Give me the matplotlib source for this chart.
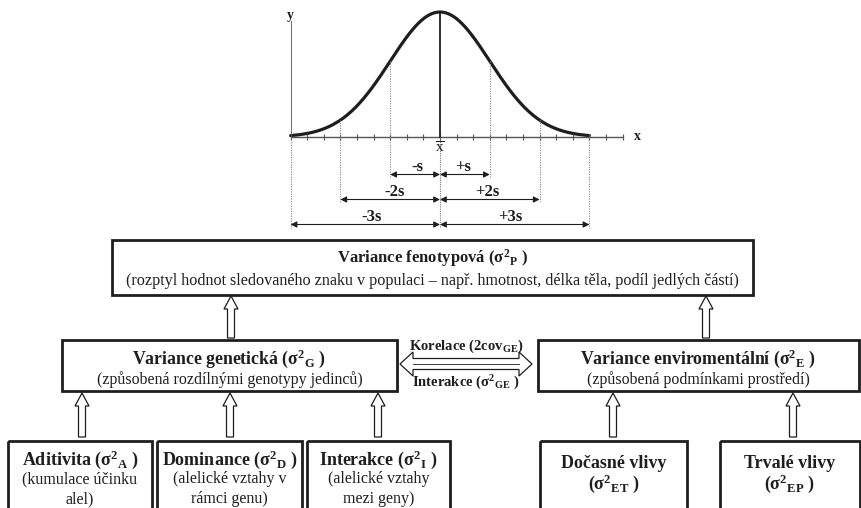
import numpy as np
import matplotlib
matplotlib.use("Agg")
import matplotlib.pyplot as plt
import matplotlib.patches as mpatches

plt.rcParams['font.family'] = ['Liberation Serif', 'DejaVu Serif']
plt.rcParams['mathtext.fontset'] = 'custom'
plt.rcParams['mathtext.rm'] = 'Liberation Serif'
plt.rcParams['mathtext.bf'] = 'Liberation Serif:bold'
plt.rcParams['mathtext.it'] = 'Liberation Serif:italic'

INK = '#1e1e1e'

# --- normal curve (in units of s) ---
z = np.linspace(-3, 3, 400)
dens = np.exp(-z**2 / 2)          # normal density, scaled to peak = 1
spans = [1, 2, 3]
span_labels = [('-s', '+s'), ('-2s', '+2s'), ('-3s', '+3s')]
span_levels = [-0.30, -0.50, -0.70]

# --- diagram boxes: (x0, y0, x1, y1) in pixels, title, subtitle lines ---
top_box = (112, 240, 753, 295)
top_title = r"Variance fenotypová ($\mathbf{σ^2{}_P}$ )"
top_sub = "(rozptyl hodnot sledovaného znaku v populaci – např. hmotnost, délka těla, podíl jedlých částí)"

mid_boxes = [(62, 340, 397, 391), (538, 340, 859, 391)]
mid_titles = [r"Variance genetická ($\mathbf{σ^2{}_G}$ )",
              r"Variance enviromentální ($\mathbf{σ^2{}_E}$ )"]
mid_subs = ["(způsobená rozdílnými genotypy jedinců)",
            "(způsobená podmínkami prostředí)"]

low_boxes = [(8, 441, 152, 530), (157, 441, 302, 530), (307, 441, 450, 530),
             (540, 441, 687, 530), (720, 441, 860, 530)]
low_titles = [r"Aditivita ($\mathbf{σ^2{}_A}$ )", r"Dominance ($\mathbf{σ^2{}_D}$ )",
              r"Interakce ($\mathbf{σ^2{}_I}$ )", "Dočasné vlivy", "Trvalé vlivy"]
low_subs = [["(kumulace účinku", "alel)"], ["(alelické vztahy v", "rámci genu)"],
            ["(alelické vztahy", "mezi geny)"], [r"($\mathbf{σ^2{}_{ET}}$ )"],
            [r"($\mathbf{σ^2{}_{EP}}$ )"]]

up_arrows_top = [231, 706]
up_arrows_low = [82, 230, 378, 613, 793]

fig = plt.figure(figsize=(8.62, 5.08), dpi=100)
ax = fig.add_axes([0, 0, 1, 1])
ax.set_xlim(0, 862)
ax.set_ylim(508, 0)
ax.axis('off')


def box(b, lw=2.0):
    x0, y0, x1, y1 = b
    ax.add_patch(mpatches.Rectangle((x0, y0), x1 - x0, y1 - y0, fill=False,
                                    ec=INK, lw=lw))


def up_arrow(x, y_from, y_to):
    ax.add_patch(mpatches.FancyArrow(x, y_from, 0, y_to - y_from, width=7,
                                     head_width=14, head_length=13,
                                     length_includes_head=True,
                                     fc='white', ec=INK, lw=0.9))


box(top_box)
ax.text((top_box[0] + top_box[2]) / 2, 258, top_title, ha='center', va='center',
        fontsize=12, fontweight='bold', color=INK)
ax.text((top_box[0] + top_box[2]) / 2, 281, top_sub, ha='center', va='center',
        fontsize=11.6, color=INK)

for b, t, s in zip(mid_boxes, mid_titles, mid_subs):
    box(b)
    cx = (b[0] + b[2]) / 2
    ax.text(cx, 359, t, ha='center', va='center', fontsize=12.8,
            fontweight='bold', color=INK)
    ax.text(cx, 380, s, ha='center', va='center', fontsize=11.4, color=INK)

for b, t, subs in zip(low_boxes, low_titles, low_subs):
    box(b)
    cx = (b[0] + b[2]) / 2
    if len(subs) == 2:
        ax.text(cx, 460, t, ha='center', va='center', fontsize=13,
                fontweight='bold', color=INK)
        for k, s in enumerate(subs):
            ax.text(cx, 479 + 20 * k, s, ha='center', va='center',
                    fontsize=11.5, color=INK)
    else:
        ax.text(cx, 463, t, ha='center', va='center', fontsize=13,
                fontweight='bold', color=INK)
        ax.text(cx, 484, subs[0], ha='center', va='center', fontsize=13,
                fontweight='bold', color=INK)

for x in up_arrows_top:
    up_arrow(x, 338, 296)
for x in up_arrows_low:
    up_arrow(x, 437, 393)

# hollow double arrow between genetic and environmental variance
xl, xr, yc = 400, 532, 364
hl, sw, hw = 13, 5.5, 12
pts = [(xl, yc), (xl + hl, yc - hw), (xl + hl, yc - sw), (xr - hl, yc - sw),
       (xr - hl, yc - hw), (xr, yc), (xr - hl, yc + hw), (xr - hl, yc + sw),
       (xl + hl, yc + sw), (xl + hl, yc + hw)]
ax.add_patch(mpatches.Polygon(pts, closed=True, fc='white', ec=INK, lw=0.9))
ax.plot([xl + hl, xr - hl], [yc, yc], color=INK, lw=0.6)
ax.text(466, 346, r"Korelace $\mathbf{(2cov_{GE})}$", ha='center', va='center',
        fontsize=10.5, fontweight='bold', color=INK)
ax.text(466, 383, r"Interakce ($\mathbf{σ^2{}_{GE}}$ )", ha='center', va='center',
        fontsize=10.5, fontweight='bold', color=INK)

# --- curve axes in units of s ---
s_px, mean_px, base_px, peak_h = 49.8, 440, 137, 125
L, R, T, B = 270, 650, 0, 235
cax = fig.add_axes([L / 862, 1 - B / 508, (R - L) / 862, (B - T) / 508])
cax.patch.set_alpha(0)
cax.axis('off')
cax.set_xlim((L - mean_px) / s_px, (R - mean_px) / s_px)
cax.set_ylim((base_px - B) / peak_h, (base_px - T) / peak_h)

cax.plot(z, dens, color=INK, lw=2.3, solid_capstyle='round')
# axes of the sketch
cax.plot([-3, -3], [0, 0.93], color='#777777', lw=0.8)
cax.text(-3, 0.975, 'y', ha='center', va='center', fontsize=10,
         fontweight='bold', color=INK)
cax.plot([-3, 3.67], [0, 0], color='#555555', lw=1.0)
cax.text(3.96, 0, 'x', ha='center', va='center', fontsize=10,
         fontweight='bold', color=INK)
ticks = np.arange(-9, 12) / 3
cax.vlines(ticks, -0.022, 0.022, color='#555555', lw=0.8)
# mean
cax.plot([0, 0], [0, 1], color=INK, lw=1.3)
cax.plot([0, 0], [0, -0.73], color='#777777', lw=0.8, ls=(0, (1, 1)))
cax.text(0, -0.09, r'$\overline{\mathrm{x}}$', ha='center', va='center',
         fontsize=11, color=INK)

for k, (lo, hi), lev in zip(spans, span_labels, span_levels):
    top = np.exp(-k**2 / 2) if k < 3 else 0
    for sgn in (-1, 1):
        cax.plot([sgn * k, sgn * k], [top, lev - 0.03], color='#888888', lw=0.8,
                 ls=(0, (1, 1.2)))
        cax.annotate('', xy=(sgn * k, lev), xytext=(0, lev),
                     arrowprops=dict(arrowstyle='<|-|>', color=INK, lw=0.8,
                                     mutation_scale=9, shrinkA=0, shrinkB=0))
    cax.text(-0.46 * k, lev + 0.06, lo, ha='center', va='center',
             fontsize=12, fontweight='bold', color=INK)
    cax.text(0.47 * k, lev + 0.06, hi, ha='center', va='center',
             fontsize=12, fontweight='bold', color=INK)

fig.savefig('out.png', dpi=100)
